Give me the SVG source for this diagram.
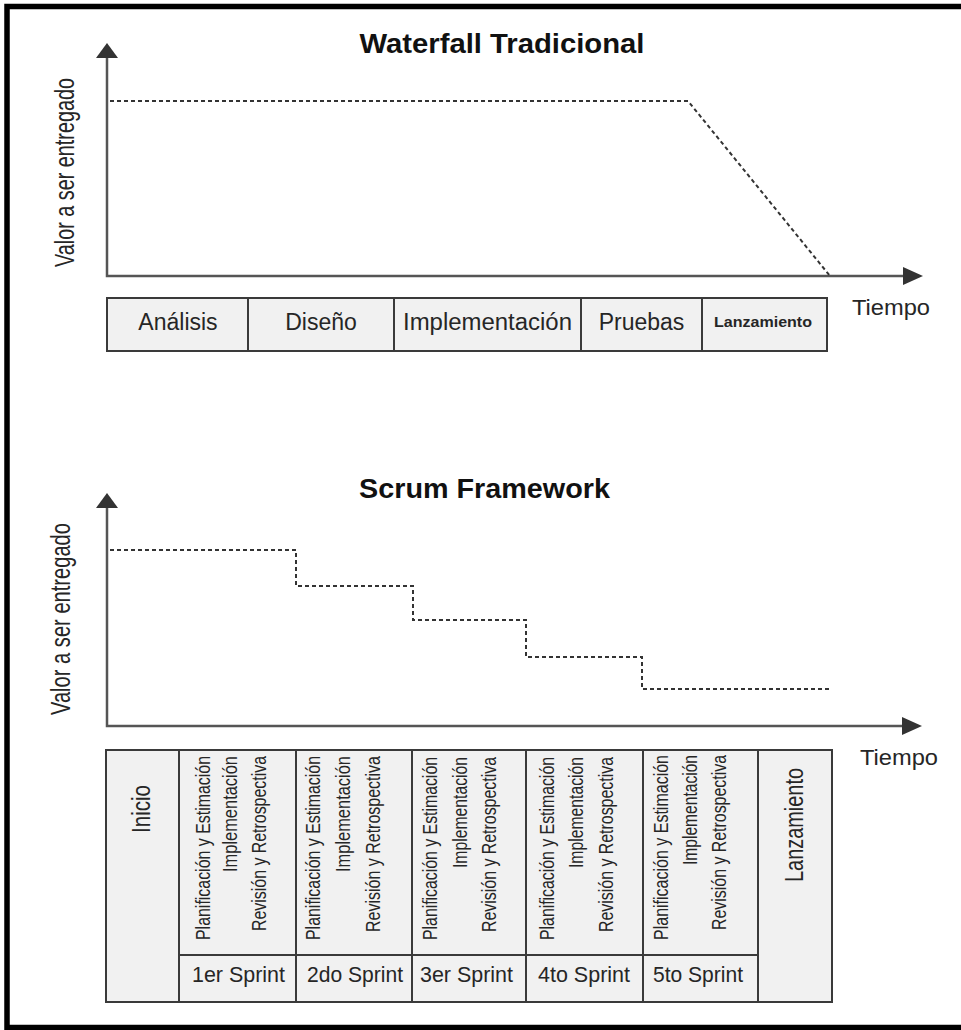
<svg xmlns="http://www.w3.org/2000/svg" width="961" height="1030" viewBox="0 0 961 1030">
  <style>
    text { font-family: "Liberation Sans", Arial, sans-serif; fill: #262626; }
    .title { font-size: 28px; font-weight: bold; fill: #111; text-anchor: middle; }
    .axis { stroke: #555; stroke-width: 2.5; fill: none; }
    .head { fill: #333; }
    .trend { stroke: #333; stroke-width: 2; fill: none; stroke-dasharray: 4 3; }
    .cell { fill: #f1f1f1; stroke: #3a3a3a; stroke-width: 2; }
    .grid { stroke: #3a3a3a; stroke-width: 2; fill: none; }
    .phase { font-size: 23px; text-anchor: middle; }
    .ylab { font-size: 28px; text-anchor: middle; }
    .time { font-size: 22px; }
    .task { font-size: 20px; text-anchor: end; }
    .sprint { font-size: 22px; text-anchor: middle; }
    .big { font-size: 26px; text-anchor: end; }
  </style>

  <!-- outer frame (right side runs off the page) -->
  <rect id="frame" x="7" y="6.5" width="1000" height="1021" fill="none" stroke="#000" stroke-width="5.5"/>

  <!-- ============ Waterfall chart ============ -->
  <g id="waterfall-title">
    <text class="title" x="502" y="53" textLength="285" lengthAdjust="spacingAndGlyphs">Waterfall Tradicional</text>
  </g>
  <g id="waterfall-ylabel">
    <text class="ylab" transform="translate(74,172.5) rotate(-90)" textLength="189" lengthAdjust="spacingAndGlyphs">Valor a ser entregado</text>
  </g>
  <g id="waterfall-xlabel">
    <text class="time" x="852" y="315" textLength="78" lengthAdjust="spacingAndGlyphs">Tiempo</text>
  </g>

  <g id="connectors">
    <!-- waterfall axes -->
    <path class="axis" d="M107,57 V276 H905"/>
    <polygon class="head" points="107,43 96,58 118,58"/>
    <polygon class="head" points="923,276 903,267 903,285"/>
    <!-- waterfall value curve -->
    <path class="trend" d="M110,101 H688 L830,276"/>

    <!-- scrum axes -->
    <path class="axis" d="M107,507 V726 H904"/>
    <polygon class="head" points="107,493 96,508 118,508"/>
    <polygon class="head" points="922,726 902,717 902,735"/>
    <!-- scrum value curve -->
    <path class="trend" d="M110,550 H296 V586 H413 V620 H526 V657 H642 V689 H830"/>
  </g>

  <!-- waterfall phase strip -->
  <g id="waterfall-phases">
    <rect class="cell" x="107" y="298" width="720" height="53"/>
    <path class="grid" d="M248,298 V351 M394,298 V351 M581,298 V351 M702,298 V351"/>
  </g>
  <g id="phase-analisis"><text class="phase" x="178" y="330">Análisis</text></g>
  <g id="phase-diseno"><text class="phase" x="321" y="330">Diseño</text></g>
  <g id="phase-implementacion"><text class="phase" x="487.5" y="330" textLength="169" lengthAdjust="spacingAndGlyphs">Implementación</text></g>
  <g id="phase-pruebas"><text class="phase" x="641.5" y="330">Pruebas</text></g>
  <g id="phase-lanzamiento"><text class="phase" x="763" y="327" style="font-size:15px;font-weight:bold" textLength="98" lengthAdjust="spacingAndGlyphs">Lanzamiento</text></g>

  <!-- ============ Scrum chart ============ -->
  <g id="scrum-title">
    <text class="title" x="484.5" y="498" textLength="251" lengthAdjust="spacingAndGlyphs">Scrum Framework</text>
  </g>
  <g id="scrum-ylabel">
    <text class="ylab" transform="translate(70,619) rotate(-90)" textLength="192" lengthAdjust="spacingAndGlyphs">Valor a ser entregado</text>
  </g>
  <g id="scrum-xlabel">
    <text class="time" x="860" y="765" textLength="78" lengthAdjust="spacingAndGlyphs">Tiempo</text>
  </g>

  <!-- scrum phase table -->
  <g id="scrum-table">
    <rect class="cell" x="106" y="750" width="726" height="252"/>
    <path class="grid" d="M179,750 V1002 M296,750 V1002 M412,750 V1002 M526,750 V1002 M643,750 V1002 M758,750 V1002 M179,955 H758"/>
  </g>

  <g id="inicio">
    <text class="big" transform="translate(150,785) rotate(-90)" textLength="48" lengthAdjust="spacingAndGlyphs">Inicio</text>
  </g>

  <g id="sprint-1">
    <text class="task" transform="translate(210,756) rotate(-90)" textLength="184" lengthAdjust="spacingAndGlyphs">Planificación y Estimación</text>
    <text class="task" transform="translate(237,756) rotate(-90)" textLength="116" lengthAdjust="spacingAndGlyphs">Implementación</text>
    <text class="task" transform="translate(266,756) rotate(-90)" textLength="175" lengthAdjust="spacingAndGlyphs">Revisión y Retrospectiva</text>
    <text class="sprint" x="238.5" y="982" textLength="93" lengthAdjust="spacingAndGlyphs">1er Sprint</text>
  </g>

  <g id="sprint-2">
    <text class="task" transform="translate(320,756) rotate(-90)" textLength="184" lengthAdjust="spacingAndGlyphs">Planificación y Estimación</text>
    <text class="task" transform="translate(350,756) rotate(-90)" textLength="116" lengthAdjust="spacingAndGlyphs">Implementación</text>
    <text class="task" transform="translate(380,756) rotate(-90)" textLength="176" lengthAdjust="spacingAndGlyphs">Revisión y Retrospectiva</text>
    <text class="sprint" x="355" y="982" textLength="96" lengthAdjust="spacingAndGlyphs">2do Sprint</text>
  </g>

  <g id="sprint-3">
    <text class="task" transform="translate(437,757) rotate(-90)" textLength="183" lengthAdjust="spacingAndGlyphs">Planificación y Estimación</text>
    <text class="task" transform="translate(467,757) rotate(-90)" textLength="111" lengthAdjust="spacingAndGlyphs">Implementación</text>
    <text class="task" transform="translate(496,757) rotate(-90)" textLength="175" lengthAdjust="spacingAndGlyphs">Revisión y Retrospectiva</text>
    <text class="sprint" x="466.5" y="982" textLength="93" lengthAdjust="spacingAndGlyphs">3er Sprint</text>
  </g>

  <g id="sprint-4">
    <text class="task" transform="translate(554,757) rotate(-90)" textLength="183" lengthAdjust="spacingAndGlyphs">Planificación y Estimación</text>
    <text class="task" transform="translate(583,757) rotate(-90)" textLength="111" lengthAdjust="spacingAndGlyphs">Implementación</text>
    <text class="task" transform="translate(613,757) rotate(-90)" textLength="175" lengthAdjust="spacingAndGlyphs">Revisión y Retrospectiva</text>
    <text class="sprint" x="584" y="982" textLength="92" lengthAdjust="spacingAndGlyphs">4to Sprint</text>
  </g>

  <g id="sprint-5">
    <text class="task" transform="translate(668,755) rotate(-90)" textLength="185" lengthAdjust="spacingAndGlyphs">Planificación y Estimación</text>
    <text class="task" transform="translate(697,755) rotate(-90)" textLength="110" lengthAdjust="spacingAndGlyphs">Implementación</text>
    <text class="task" transform="translate(726,755) rotate(-90)" textLength="175" lengthAdjust="spacingAndGlyphs">Revisión y Retrospectiva</text>
    <text class="sprint" x="698" y="982" textLength="90" lengthAdjust="spacingAndGlyphs">5to Sprint</text>
  </g>

  <g id="lanzamiento">
    <text class="big" transform="translate(803,768) rotate(-90)" textLength="114" lengthAdjust="spacingAndGlyphs">Lanzamiento</text>
  </g>
</svg>
